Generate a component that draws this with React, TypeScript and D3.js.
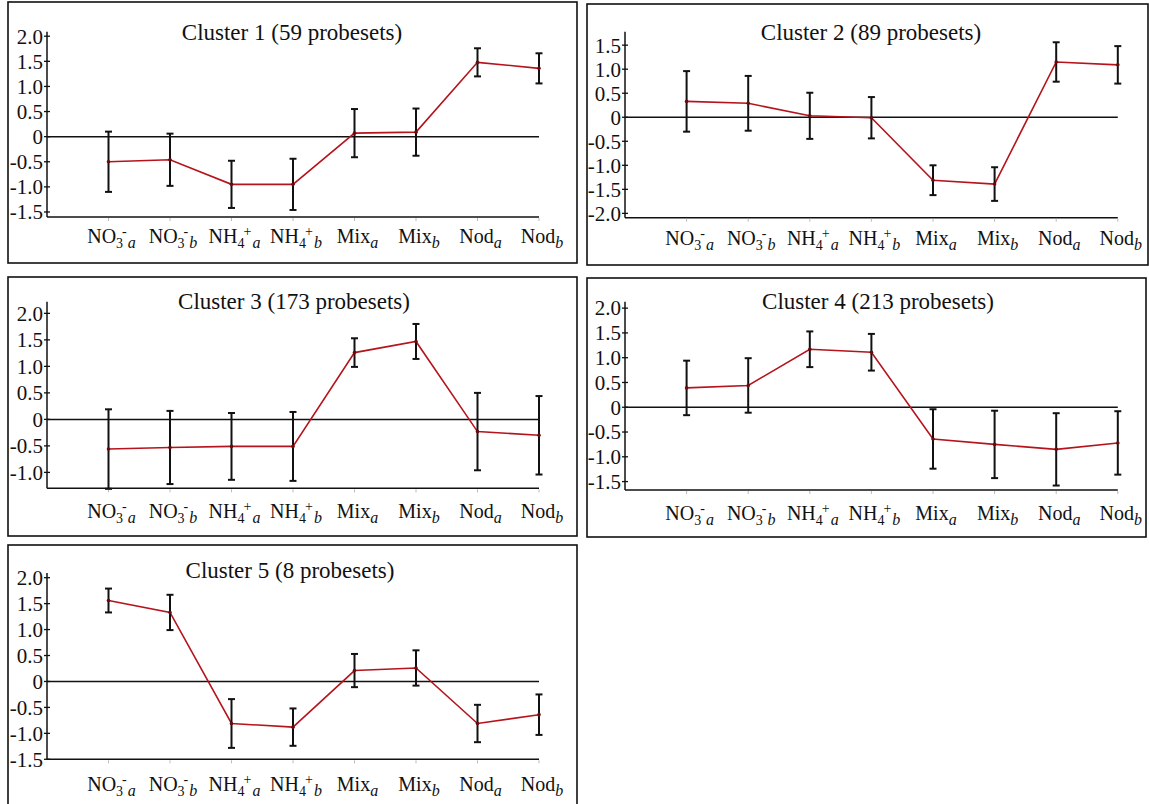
import React, { useRef, useEffect } from "react";
import * as d3 from "d3";

// conditions on the x axis
const categories = ["NO3-a", "NO3-b", "NH4+a", "NH4+b", "Mixa", "Mixb", "Noda", "Nodb"];
const labelMain = ["NO", "NO", "NH", "NH", "Mix", "Mix", "Nod", "Nod"];
const labelSub = ["3", "3", "4", "4", "", "", "", ""];
const labelSup = ["-", "-", "+", "+", "", "", "", ""];
const labelRep = ["a", "b", "a", "b", "a", "b", "a", "b"];

const titles = [
    "Cluster 1 (59 probesets)",
    "Cluster 2 (89 probesets)",
    "Cluster 3 (173 probesets)",
    "Cluster 4 (213 probesets)",
    "Cluster 5 (8 probesets)",
];

// mean expression and error (+/-) per condition
const cluster1Mean = [-0.50, -0.46, -0.95, -0.95, 0.07, 0.09, 1.48, 1.36];
const cluster1Err = [0.60, 0.52, 0.47, 0.51, 0.48, 0.47, 0.28, 0.30];
const cluster2Mean = [0.33, 0.29, 0.03, -0.01, -1.31, -1.39, 1.15, 1.09];
const cluster2Err = [0.63, 0.57, 0.48, 0.43, 0.31, 0.35, 0.41, 0.39];
const cluster3Mean = [-0.56, -0.53, -0.51, -0.51, 1.26, 1.47, -0.23, -0.30];
const cluster3Err = [0.75, 0.69, 0.63, 0.65, 0.27, 0.33, 0.73, 0.74];
const cluster4Mean = [0.39, 0.44, 1.17, 1.11, -0.64, -0.75, -0.85, -0.72];
const cluster4Err = [0.55, 0.55, 0.36, 0.37, 0.60, 0.68, 0.73, 0.64];
const cluster5Mean = [1.56, 1.33, -0.81, -0.88, 0.21, 0.26, -0.81, -0.64];
const cluster5Err = [0.23, 0.34, 0.47, 0.36, 0.32, 0.34, 0.36, 0.39];

const ticks1 = [2.0, 1.5, 1.0, 0.5, 0, -0.5, -1.0, -1.5];
const ticks2 = [1.5, 1.0, 0.5, 0, -0.5, -1.0, -1.5, -2.0];
const ticks3 = [2.0, 1.5, 1.0, 0.5, 0, -0.5, -1.0];
const ticks4 = [2.0, 1.5, 1.0, 0.5, 0, -0.5, -1.0, -1.5];
const ticks5 = [2.0, 1.5, 1.0, 0.5, 0, -0.5, -1.0, -1.5];

const yDomains = [[-1.6, 2.09], [-2.09, 1.78], [-1.3, 2.22], [-1.67, 2.13], [-1.5, 2.09]];

const FONT = "'Liberation Serif', 'Times New Roman', serif";

// frame, axis and text placement for each panel
const layout = [
    { fx: 8, fy: 2, fw: 569, fh: 261, ax: 47, step: 61.5, top: 31.7, bottom: 217, tx: 292, ty: 40, ly: 243 },
    { fx: 587, fy: 4, fw: 561, fh: 261, ax: 625, step: 61.6, top: 31.7, bottom: 217.7, tx: 871, ty: 40, ly: 245 },
    { fx: 8, fy: 277, fw: 569, fh: 259, ax: 47, step: 61.5, top: 301.7, bottom: 488.3, tx: 294, ty: 309, ly: 518 },
    { fx: 587, fy: 278, fw: 559, fh: 259, ax: 625, step: 61.6, top: 301.7, bottom: 490, tx: 878, ty: 309, ly: 520 },
    { fx: 8, fy: 545, fw: 569, fh: 270, ax: 47, step: 61.5, top: 573, bottom: 759.3, tx: 290, ty: 578, ly: 791 },
];

const App = () => {
    const plot = useRef(null);
    const width = 1149;
    const height = 804;

    useEffect(() => {
        const svg = d3.select(plot.current);
        svg.selectAll("*").remove();

        const means = [cluster1Mean, cluster2Mean, cluster3Mean, cluster4Mean, cluster5Mean];
        const errs = [cluster1Err, cluster2Err, cluster3Err, cluster4Err, cluster5Err];
        const ticks = [ticks1, ticks2, ticks3, ticks4, ticks5];
        const fmt = (d) => (d === 0 ? "0" : d.toFixed(1));

        layout.forEach((L, p) => {
            const g = svg.append("g");
            const x = d3.scaleLinear()
                .domain([-1, categories.length - 1])
                .range([L.ax, L.ax + L.step * categories.length]);
            const y = d3.scaleLinear().domain(yDomains[p]).range([L.bottom, L.top]);
            const xEnd = x(categories.length - 1);

            // frame
            g.append("rect")
                .attr("x", L.fx).attr("y", L.fy)
                .attr("width", L.fw).attr("height", L.fh)
                .attr("fill", "none").attr("stroke", "#111").attr("stroke-width", 1.6);

            // title
            g.append("text")
                .attr("x", L.tx).attr("y", L.ty)
                .attr("text-anchor", "middle")
                .attr("font-family", FONT).attr("font-size", 23)
                .attr("fill", "#111")
                .text(titles[p]);

            // y axis
            g.append("line")
                .attr("x1", L.ax).attr("x2", L.ax)
                .attr("y1", L.top).attr("y2", L.bottom)
                .attr("stroke", "#111").attr("stroke-width", 1.5);
            g.selectAll(".ytick")
                .data(ticks[p])
                .join("line")
                .attr("x1", L.ax - 3).attr("x2", L.ax + 3)
                .attr("y1", d => y(d)).attr("y2", d => y(d))
                .attr("stroke", "#111").attr("stroke-width", 1.3);
            g.selectAll(".ylab")
                .data(ticks[p])
                .join("text")
                .attr("x", L.ax - 4)
                .attr("y", d => y(d))
                .attr("dy", "0.35em")
                .attr("text-anchor", "end")
                .attr("font-family", FONT).attr("font-size", 21)
                .attr("fill", "#111")
                .text(fmt);

            // x axis and zero line
            g.append("line")
                .attr("x1", L.ax).attr("x2", xEnd)
                .attr("y1", L.bottom).attr("y2", L.bottom)
                .attr("stroke", "#111").attr("stroke-width", 1.5);
            g.append("line")
                .attr("x1", L.ax).attr("x2", xEnd)
                .attr("y1", y(0)).attr("y2", y(0))
                .attr("stroke", "#111").attr("stroke-width", 1.5);
            g.selectAll(".xtick")
                .data(categories)
                .join("line")
                .attr("x1", (d, i) => x(i)).attr("x2", (d, i) => x(i))
                .attr("y1", L.bottom + 1).attr("y2", L.bottom + 4)
                .attr("stroke", "#bbb").attr("stroke-width", 1);

            // x labels with sub/superscripts
            const lab = g.selectAll(".xlab")
                .data(categories)
                .join("text")
                .attr("x", (d, i) => x(i) + 3)
                .attr("y", L.ly)
                .attr("text-anchor", "middle")
                .attr("font-family", FONT).attr("font-size", 20)
                .attr("fill", "#111");
            lab.append("tspan").text((d, i) => labelMain[i]);
            lab.filter((d, i) => labelSub[i] !== "").each(function (d) {
                const i = categories.indexOf(d);
                const t = d3.select(this);
                t.append("tspan").attr("font-size", 14).attr("dy", 5).text(labelSub[i]);
                t.append("tspan").attr("font-size", 14).attr("dy", -12).attr("dx", -1).text(labelSup[i]);
                t.append("tspan").attr("font-size", 16).attr("dy", 12).attr("dx", 1).attr("font-style", "italic")
                    .text(labelRep[i]);
            });
            lab.filter((d, i) => labelSub[i] === "").each(function (d) {
                const i = categories.indexOf(d);
                d3.select(this).append("tspan")
                    .attr("font-size", 16).attr("dy", 5).attr("font-style", "italic")
                    .text(labelRep[i]);
            });

            // mean profile
            const line = d3.line()
                .x((d, i) => x(i))
                .y(d => y(d));
            g.append("path")
                .datum(means[p])
                .attr("d", line)
                .attr("fill", "none")
                .attr("stroke", "#b5141c")
                .attr("stroke-width", 1.6);

            // error bars
            const bars = g.append("g")
                .selectAll("g")
                .data(means[p])
                .join("g")
                .attr("stroke", "#111")
                .attr("stroke-width", 2);
            bars.append("line")
                .attr("x1", (d, i) => x(i)).attr("x2", (d, i) => x(i))
                .attr("y1", (d, i) => y(d + errs[p][i]))
                .attr("y2", (d, i) => y(d - errs[p][i]));
            bars.append("line")
                .attr("x1", (d, i) => x(i) - 3.5).attr("x2", (d, i) => x(i) + 3.5)
                .attr("y1", (d, i) => y(d + errs[p][i]))
                .attr("y2", (d, i) => y(d + errs[p][i]));
            bars.append("line")
                .attr("x1", (d, i) => x(i) - 3.5).attr("x2", (d, i) => x(i) + 3.5)
                .attr("y1", (d, i) => y(d - errs[p][i]))
                .attr("y2", (d, i) => y(d - errs[p][i]));

            // mean points
            g.selectAll(".pt")
                .data(means[p])
                .join("circle")
                .attr("cx", (d, i) => x(i))
                .attr("cy", d => y(d))
                .attr("r", 1.8)
                .attr("fill", "#6a0a0e");
        });
    });

    return (
        <svg ref={plot} width={width} height={height}
            style={{ position: "absolute", left: 0, top: 0, background: "#fff" }} />
    );
};

export default App;
